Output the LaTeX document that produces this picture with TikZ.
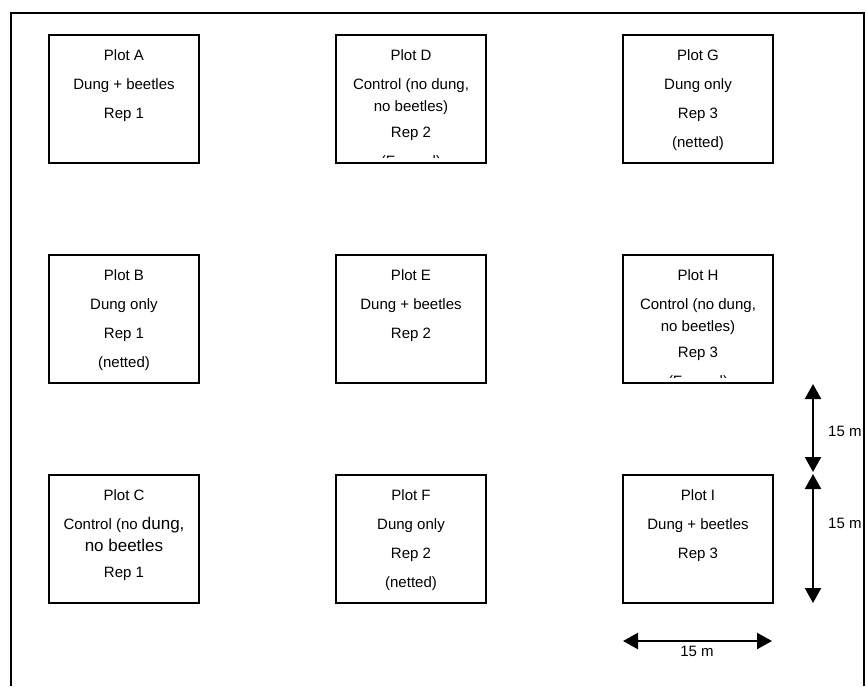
\documentclass[tikz,border=0pt]{standalone}
\usepackage{fontspec}
\setmainfont{Liberation Sans}
\usetikzlibrary{arrows.meta}
\begin{document}
\begin{tikzpicture}[x=1pt,y=-1pt,
  plotbox/.style={draw, line width=1.8pt, rectangle, minimum width=150pt, minimum height=128pt, inner sep=0pt, outer sep=0pt},
  plottext/.style={anchor=north, align=center, inner sep=0pt, font=\fontsize{15}{22}\selectfont},
  dimarrow/.style={line width=2.3pt, {Triangle[length=15pt,width=16pt]}-{Triangle[length=15pt,width=16pt]}},
  dimlabel/.style={inner sep=0pt, font=\fontsize{15}{18}\selectfont},
  frameline/.style={line width=2pt}]
\useasboundingbox (0,0) rectangle (866,686);
% outer frame (open at the bottom)
\draw[frameline] (11,686) -- (11,13) -- (864,13) -- (864,686);

% plot boxes
\node[plotbox] (A) at (124,99) {};
\node[plotbox] (B) at (124,319) {};
\node[plotbox] (C) at (124,539) {};
\node[plotbox] (D) at (411,99) {};
\node[plotbox] (E) at (411,319) {};
\node[plotbox] (F) at (411,539) {};
\node[plotbox] (G) at (698,99) {};
\node[plotbox] (H) at (698,319) {};
\node[plotbox] (I) at (698,539) {};

% texts
\node[plottext] (At) at ([yshift=-14pt]A.north) {Plot A\\[7pt]Dung + beetles\\[7pt]Rep 1};
\node[plottext] (Bt) at ([yshift=-14pt]B.north) {Plot B\\[7pt]Dung only\\[7pt]Rep 1\\[7pt](netted)};
\node[plottext] (Ct) at ([yshift=-14pt]C.north) {Plot C\\[7pt]Control (no {\fontsize{17}{22}\selectfont dung,}\\{\fontsize{17}{22}\selectfont no beetles}\\[4pt]Rep 1};
\begin{scope}
  \clip (D.north west) rectangle ([yshift=5.5pt]D.south east);
  \node[plottext] (Dt) at ([yshift=-14pt]D.north) {Plot D\\[7pt]Control (no dung,\\no beetles)\\[4pt]Rep 2\\[7pt](Fenced)};
\end{scope}
\node[plottext] (Et) at ([yshift=-14pt]E.north) {Plot E\\[7pt]Dung + beetles\\[7pt]Rep 2};
\node[plottext] (Ft) at ([yshift=-14pt]F.north) {Plot F\\[7pt]Dung only\\[7pt]Rep 2\\[7pt](netted)};
\node[plottext] (Gt) at ([yshift=-14pt]G.north) {Plot G\\[7pt]Dung only\\[7pt]Rep 3\\[7pt](netted)};
\begin{scope}
  \clip (H.north west) rectangle ([yshift=5.5pt]H.south east);
  \node[plottext] (Ht) at ([yshift=-14pt]H.north) {Plot H\\[7pt]Control (no dung,\\no beetles)\\[4pt]Rep 3\\[7pt](Fenced)};
\end{scope}
\node[plottext] (It) at ([yshift=-14pt]I.north) {Plot I\\[7pt]Dung + beetles\\[7pt]Rep 3};

% dimension arrows
\coordinate (v1a) at (813,384);
\coordinate (v1b) at (813,472);
\coordinate (v2a) at (813,474);
\coordinate (v2b) at (813,603);
\coordinate (h1a) at (623,641);
\coordinate (h1b) at (772,641);
\draw[dimarrow] (v1a) -- (v1b);
\draw[dimarrow] (v2a) -- (v2b);
\draw[dimarrow] (h1a) -- (h1b);
\node[dimlabel, anchor=west] (l1) at (828,431) {15 m};
\node[dimlabel, anchor=west] (l2) at (828,523) {15 m};
\node[dimlabel] (l3) at (697,651) {15 m};
\end{tikzpicture}
\end{document}
